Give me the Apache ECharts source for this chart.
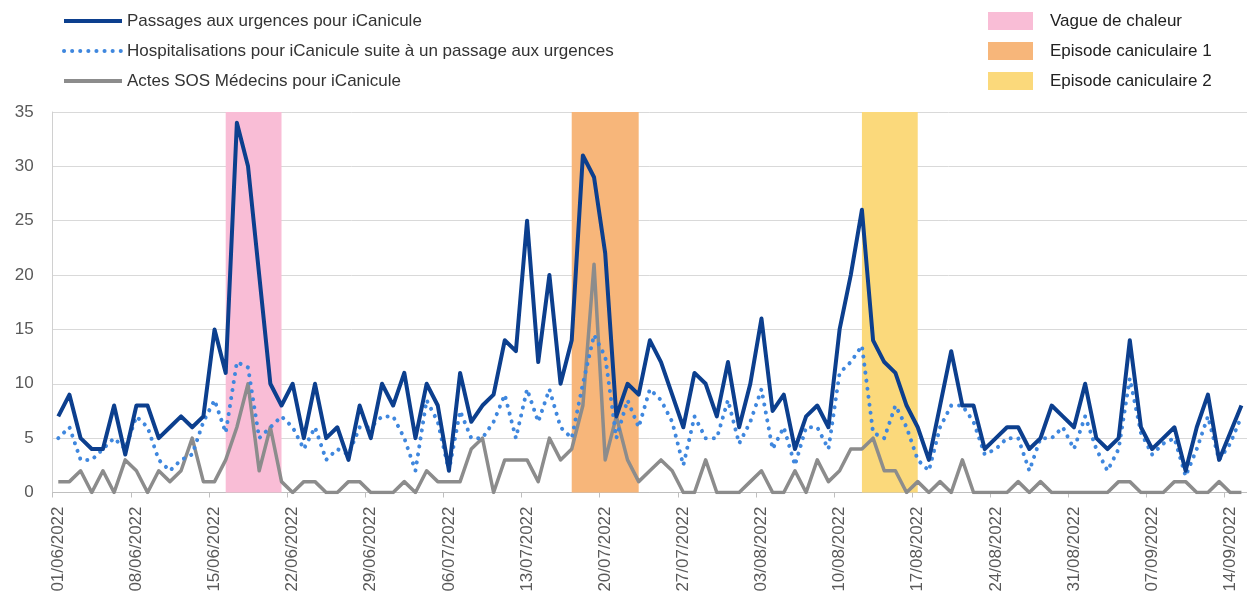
<!DOCTYPE html>
<html><head><meta charset="utf-8">
<script src="https://cdn.jsdelivr.net/npm/echarts@6/dist/echarts.min.js"></script>
<style>html,body{margin:0;padding:0;background:#fff}#c{width:1247px;height:607px}</style>
</head><body><div id="c"></div>
<script>
const categories = [
'01/06/2022','02/06/2022','03/06/2022','04/06/2022','05/06/2022','06/06/2022','07/06/2022','08/06/2022','09/06/2022','10/06/2022',
'11/06/2022','12/06/2022','13/06/2022','14/06/2022','15/06/2022','16/06/2022','17/06/2022','18/06/2022','19/06/2022','20/06/2022',
'21/06/2022','22/06/2022','23/06/2022','24/06/2022','25/06/2022','26/06/2022','27/06/2022','28/06/2022','29/06/2022','30/06/2022',
'01/07/2022','02/07/2022','03/07/2022','04/07/2022','05/07/2022','06/07/2022','07/07/2022','08/07/2022','09/07/2022','10/07/2022',
'11/07/2022','12/07/2022','13/07/2022','14/07/2022','15/07/2022','16/07/2022','17/07/2022','18/07/2022','19/07/2022','20/07/2022',
'21/07/2022','22/07/2022','23/07/2022','24/07/2022','25/07/2022','26/07/2022','27/07/2022','28/07/2022','29/07/2022','30/07/2022',
'31/07/2022','01/08/2022','02/08/2022','03/08/2022','04/08/2022','05/08/2022','06/08/2022','07/08/2022','08/08/2022','09/08/2022',
'10/08/2022','11/08/2022','12/08/2022','13/08/2022','14/08/2022','15/08/2022','16/08/2022','17/08/2022','18/08/2022','19/08/2022',
'20/08/2022','21/08/2022','22/08/2022','23/08/2022','24/08/2022','25/08/2022','26/08/2022','27/08/2022','28/08/2022','29/08/2022',
'30/08/2022','31/08/2022','01/09/2022','02/09/2022','03/09/2022','04/09/2022','05/09/2022','06/09/2022','07/09/2022','08/09/2022',
'09/09/2022','10/09/2022','11/09/2022','12/09/2022','13/09/2022','14/09/2022','15/09/2022'
];
const passages = [
7, 9, 5, 4, 4, 8, 3.5, 8, 8, 5,
6, 7, 6, 7, 15, 11, 34, 30, 20, 10,
8, 10, 5, 10, 5, 6, 3, 8, 5, 10,
8, 11, 5, 10, 8, 2, 11, 6.5, 8, 9,
14, 13, 25, 12, 20, 10, 14, 31, 29, 22,
7, 10, 9, 14, 12, 9, 6, 11, 10, 7,
12, 6, 10, 16, 7.5, 9, 4, 7, 8, 6,
15, 20, 26, 14, 12, 11, 8, 6, 3, 8,
13, 8, 8, 4, 5, 6, 6, 4, 5, 8,
7, 6, 10, 5, 4, 5, 14, 6, 4, 5,
6, 2, 6, 9, 3, 5.5, 8
];
const hospitalisations = [
5, 6, 3, 3, 4, 5, 4, 7, 6, 3,
2, 3, 3.5, 6.5, 8.5, 5.5, 12, 11.5, 5, 6,
7, 6, 4, 6, 3, 4, 3.5, 6, 6, 7,
7, 5, 2, 8.5, 6.5, 2, 7.5, 5, 5, 6.5,
9, 5, 9.5, 6.5, 9.5, 6, 5, 10, 14.5, 12.5,
5, 8.5, 6, 9.5, 8.5, 6.5, 2.5, 7, 5, 5,
8.5, 4.5, 6.5, 9.5, 4, 6, 2.5, 6, 6, 4,
11, 12, 13.5, 5.5, 5, 8, 6, 3, 2, 6,
8, 8, 6.5, 3.5, 4, 5, 5, 2, 5, 5,
6, 4, 7, 4, 2, 4, 10.5, 5.5, 3.5, 4.5,
5, 1.5, 4, 7, 3, 4.5, 7
];
const sosMedecins = [
1, 1, 2, 0, 2, 0, 3, 2, 0, 2,
1, 2, 5, 1, 1, 3, 6, 10, 2, 6,
1, 0, 1, 1, 0, 0, 1, 1, 0, 0,
0, 1, 0, 2, 1, 1, 1, 4, 5, 0,
3, 3, 3, 1, 5, 3, 4, 8, 21, 3,
7, 3, 1, 2, 3, 2, 0, 0, 3, 0,
0, 0, 1, 2, 0, 0, 2, 0, 3, 1,
2, 4, 4, 5, 2, 2, 0, 1, 0, 1,
0, 3, 0, 0, 0, 0, 1, 0, 1, 0,
0, 0, 0, 0, 0, 1, 1, 0, 0, 0,
1, 1, 0, 0, 1, 0, 0
];
const seriesNames = [
'Passages aux urgences pour iCanicule',
'Hospitalisations pour iCanicule suite à un passage aux urgences',
'Actes SOS Médecins pour iCanicule'
];
const bandNames = ['Vague de chaleur', 'Episode caniculaire 1', 'Episode caniculaire 2'];
const bandStart = ['16/06/2022', '17/07/2022', '12/08/2022'];
const bandEnd = ['21/06/2022', '23/07/2022', '17/08/2022'];
const yMin = 0, yMax = 35, yStep = 5;

const bandColors = ['#F9BDD6', '#F7B67A', '#FBD97B'];
const lineColors = ['#0C3F8E', '#3F87DE', '#8C8C8C'];
const FONT = '"Liberation Sans", Arial, sans-serif';

const chart = echarts.init(document.getElementById('c'), null, {renderer: 'canvas'});

const bandSeries = bandNames.map((n, i) => ({
  name: n, type: 'line', data: [], silent: true, z: 1,
  itemStyle: {color: bandColors[i]}, lineStyle: {color: bandColors[i]},
  markArea: {silent: true, itemStyle: {color: bandColors[i], opacity: 1},
    data: [[{xAxis: bandStart[i]}, {xAxis: bandEnd[i]}]]}
}));

const option = {
  animation: false,
  backgroundColor: '#ffffff',
  textStyle: {fontFamily: FONT},
  legend: [
    {
      data: seriesNames, orient: 'vertical', left: 57, top: 7,
      itemWidth: 58, itemHeight: 18, itemGap: 12,
      lineStyle: {width: 4},
      itemStyle: {color: 'rgba(0,0,0,0)', borderWidth: 0, opacity: 0},
      textStyle: {fontSize: 17, color: '#333333', fontFamily: FONT, lineHeight: 18},
      selectedMode: false
    },
    {
      data: bandNames.map((n, i) => ({name: n, icon: 'rect', itemStyle: {color: bandColors[i]}})),
      orient: 'vertical', left: 983, top: 7,
      itemWidth: 45, itemHeight: 18, itemGap: 12,
      textStyle: {fontSize: 17, color: '#222222', fontFamily: FONT, padding: [0, 0, 0, 12]},
      selectedMode: false
    }
  ],
  grid: {left: 52.7, right: -7.3, top: 112, bottom: 114.5, containLabel: false},
  xAxis: {
    type: 'category', data: categories, boundaryGap: true,
    axisLine: {lineStyle: {color: '#BFBFBF', width: 1}},
    axisTick: {show: true, interval: 6, length: 5, lineStyle: {color: '#BFBFBF'}},
    axisLabel: {interval: 6, rotate: 90, fontSize: 17, color: '#595959', margin: 14, fontFamily: FONT},
    splitLine: {show: false}
  },
  yAxis: {
    type: 'value', min: yMin, max: yMax, interval: yStep,
    axisLine: {show: true, lineStyle: {color: '#D0D0D0'}},
    axisTick: {show: false},
    axisLabel: {fontSize: 17, color: '#595959', margin: 19, fontFamily: FONT},
    splitLine: {lineStyle: {color: '#D9D9D9', width: 1}}
  },
  series: bandSeries.concat([
    {
      name: seriesNames[2], type: 'line', data: sosMedecins, symbol: 'none', z: 3,
      itemStyle: {color: lineColors[2]},
      lineStyle: {color: lineColors[2], width: 3.5, join: 'round'}
    },
    {
      name: seriesNames[1], type: 'line', data: hospitalisations, symbol: 'none', z: 4,
      itemStyle: {color: lineColors[1]},
      lineStyle: {color: lineColors[1], width: 4, type: [0.1, 8], cap: 'round'}
    },
    {
      name: seriesNames[0], type: 'line', data: passages, symbol: 'none', z: 5,
      itemStyle: {color: lineColors[0]},
      lineStyle: {color: lineColors[0], width: 4, join: 'round'}
    }
  ])
};
chart.setOption(option);
</script>
</body></html>
